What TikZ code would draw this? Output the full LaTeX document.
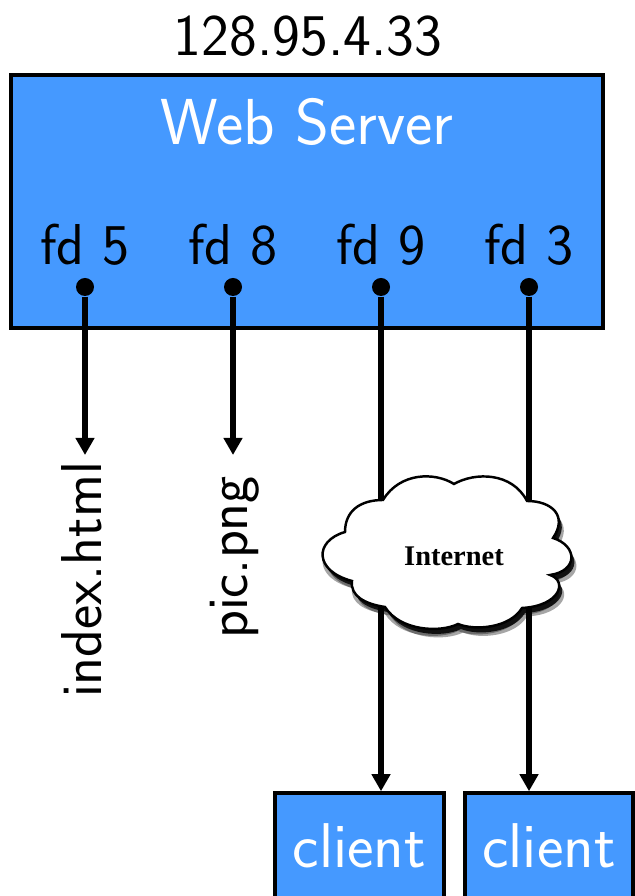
\documentclass[tikz,border=0pt]{standalone}
\usepackage{amsfonts,amssymb,amsmath}
\usepackage{fontspec}
\usepackage{tikz}
\usetikzlibrary{shadows,arrows.meta}
\newfontfamily\cloudfont{Liberation Serif}
\definecolor{boxblue}{HTML}{4599FF}
\tikzset{
  bluebox/.style={draw=black,fill=boxblue,line width=1pt,inner sep=0pt,text=white,font=\sffamily\fontsize{18}{20}\selectfont},
  fdtext/.style={font=\sffamily\fontsize{16.4}{18}\selectfont,inner sep=0pt},
  fddot/.style={circle,fill=black,inner sep=0pt,minimum size=.18cm},
  fdline/.style={line width=1.7pt,-{Triangle[length=.17cm,width=.18cm]}},
  cloudline/.style={draw=black,fill=white,line width=.7pt,
    drop shadow={shadow xshift=.05cm,shadow yshift=-.085cm,fill=black,opacity=.35},
    drop shadow={shadow xshift=0cm,shadow yshift=-.07cm,fill=black,opacity=.35},
    drop shadow={shadow xshift=.03cm,shadow yshift=-.05cm,fill=black,opacity=.85}}
}
\begin{document}
\begin{tikzpicture}
\useasboundingbox (0,0) rectangle (6.34,8.96);

\node[bluebox,minimum width=5.92cm,minimum height=2.53cm] (server) at (3.07,6.945) {};
\node[fdtext,font=\sffamily\fontsize{16.8}{18}\selectfont] (addr) at (3.08,8.60) {128.95.4.33};
\node[fdtext,text=white,font=\sffamily\fontsize{18.5}{22}\selectfont] (title) at (3.07,7.74) {Web Server};

\node[fdtext] (fd5) at (.85,6.51) {fd 5};
\node[fdtext] (fd8) at (2.33,6.51) {fd 8};
\node[fdtext] (fd9) at (3.81,6.51) {fd 9};
\node[fdtext] (fd3) at (5.29,6.51) {fd 3};

\node[fddot] (dot5) at (.85,6.09) {};
\node[fddot] (dot8) at (2.33,6.09) {};
\node[fddot] (dot9) at (3.81,6.09) {};
\node[fddot] (dot3) at (5.29,6.09) {};

\node[fdtext,rotate=90] (index) at (.82,3.16) {index.html};
\node[fdtext,rotate=90] (pic) at (2.35,3.385) {pic.png};
\coordinate (end5) at (.85,4.41);
\coordinate (end8) at (2.33,4.41);

\node[bluebox,minimum width=1.69cm,minimum height=1.06cm] (client1) at (3.595,.50) {client};
\node[bluebox,minimum width=1.68cm,minimum height=1.06cm] (client2) at (5.49,.50) {client};

\draw[fdline] (dot5) -- (end5);
\draw[fdline] (dot8) -- (end8);
\draw[fdline] (dot9) -- (dot9 |- client1.north);
\draw[fdline] (dot3) -- (dot3 |- client2.north);

\path[cloudline] (4.54,4.12) .. controls (4.75,4.24) and (5.12,4.24) .. (5.27,3.95)
  .. controls (5.52,3.95) and (5.68,3.80) .. (5.53,3.58)
  .. controls (5.78,3.50) and (5.78,3.25) .. (5.50,3.21)
  .. controls (5.68,3.15) and (5.60,2.90) .. (5.22,2.88)
  .. controls (5.10,2.68) and (4.75,2.65) .. (4.58,2.72)
  .. controls (4.40,2.63) and (4.00,2.65) .. (3.85,2.89)
  .. controls (3.65,2.92) and (3.50,3.00) .. (3.52,3.15)
  .. controls (3.14,3.25) and (3.14,3.55) .. (3.45,3.64)
  .. controls (3.45,3.85) and (3.60,3.96) .. (3.83,3.96)
  .. controls (4.00,4.24) and (4.35,4.24) .. (4.54,4.12) -- cycle;
\node[font=\cloudfont\bfseries\fontsize{8.1}{10}\selectfont,inner sep=0pt] (internet) at (4.54,3.40) {Internet};
\end{tikzpicture}
\end{document}
